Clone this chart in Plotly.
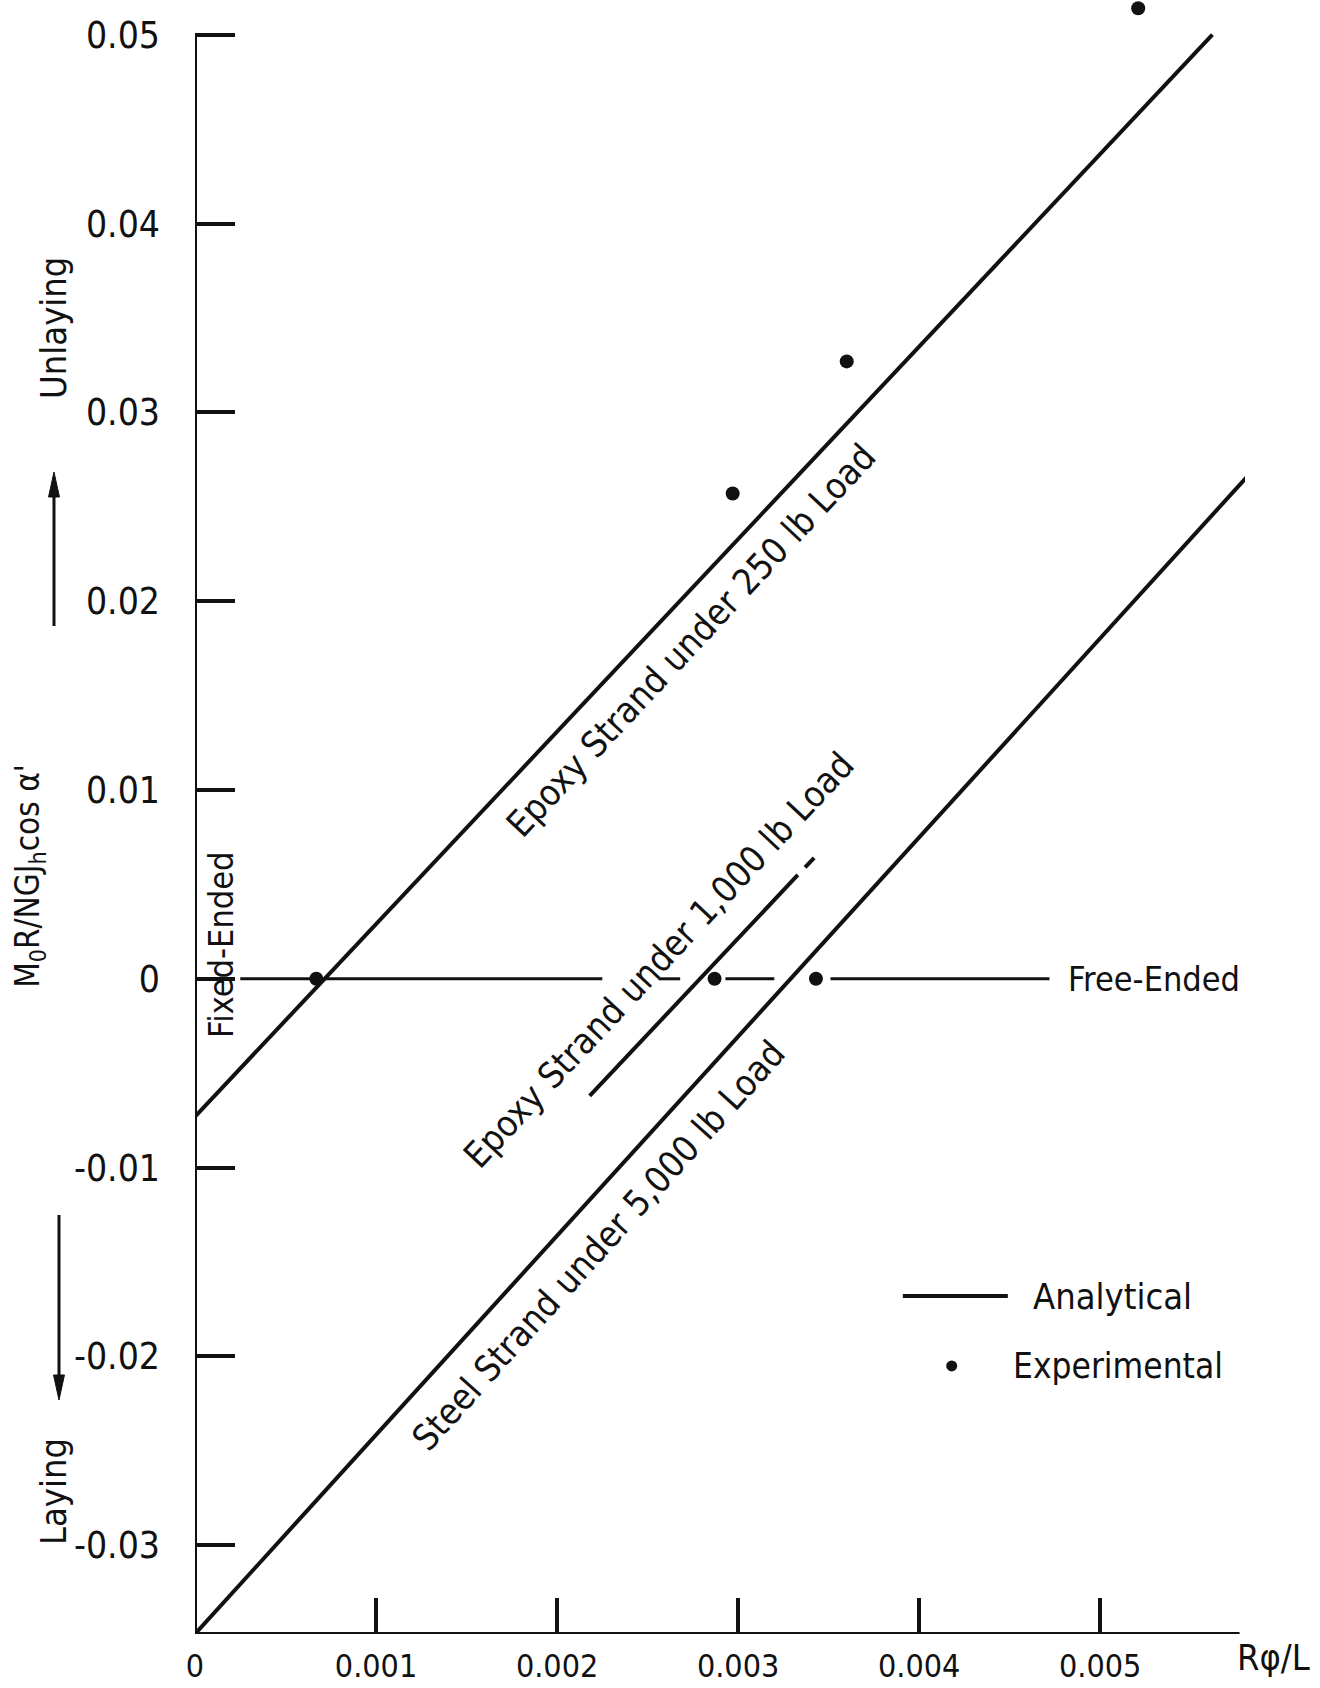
import plotly.graph_objects as go

# ---- data -------------------------------------------------------------
# analytical curves (R*phi/L, M0R/NGJh cos a')
epoxy250_x = [0.0, 0.00562]
epoxy250_y = [-0.0073, 0.0500]

epoxy1000_x = [0.00218, 0.00333]
epoxy1000_y = [-0.0062, 0.0055]
epoxy1000_tail_x = [0.00337, 0.00342]
epoxy1000_tail_y = [0.0059, 0.0064]

steel5000_x = [0.0, 0.00585]
steel5000_y = [-0.0347, 0.0270]

# free-ended reference line (broken where labels and points sit)
free_x = [0.00025, 0.00064, None, 0.00071, 0.00225, None, 0.00256, 0.00268, None,
          0.00293, 0.00320, None, 0.00351, 0.00472]
free_y = [0, 0, None, 0, 0, None, 0, 0, None, 0, 0, None, 0, 0]

# experimental measurements
exp_x = [0.00067, 0.00287, 0.00343, 0.00297, 0.00360, 0.00521]
exp_y = [0.0, 0.0, 0.0, 0.0257, 0.0327, 0.0514]

x_ticks = [0, 0.001, 0.002, 0.003, 0.004, 0.005]
x_ticktext = ["0", "0.001", "0.002", "0.003", "0.004", "0.005"]
y_ticks = [-0.03, -0.02, -0.01, 0, 0.01, 0.02, 0.03, 0.04, 0.05]
y_ticktext = ["-0.03", "-0.02", "-0.01", "0", "0.01", "0.02", "0.03", "0.04", "0.05"]

X_MIN, X_MAX = 0.0, 0.0058
Y_MIN, Y_MAX = -0.0347, 0.05184

FONT = "Liberation Sans Narrow, DejaVu Sans Condensed, Arial Narrow, sans-serif"
INK = "#111111"
TXT = 36

fig = go.Figure()

line_style = dict(color=INK, width=4)
for xs, ys in [(epoxy250_x, epoxy250_y), (epoxy1000_x, epoxy1000_y),
               (epoxy1000_tail_x, epoxy1000_tail_y), (steel5000_x, steel5000_y)]:
    fig.add_trace(go.Scatter(x=xs, y=ys, mode="lines", line=line_style,
                             showlegend=False, hoverinfo="skip"))

fig.add_trace(go.Scatter(x=free_x, y=free_y, mode="lines",
                         line=dict(color=INK, width=3), connectgaps=False,
                         showlegend=False, hoverinfo="skip"))

fig.add_trace(go.Scatter(x=exp_x, y=exp_y, mode="markers",
                         marker=dict(color=INK, size=14),
                         showlegend=False, cliponaxis=False))

# key
KEY_LINE_Y, KEY_DOT_Y = -0.0168, -0.0205
fig.add_trace(go.Scatter(x=[0.00391, 0.00449], y=[KEY_LINE_Y, KEY_LINE_Y], mode="lines",
                         line=line_style, showlegend=False, hoverinfo="skip"))
fig.add_trace(go.Scatter(x=[0.00418], y=[KEY_DOT_Y], mode="markers",
                         marker=dict(color=INK, size=11), showlegend=False))

# axis lines
fig.add_shape(type="line", x0=0, x1=0, y0=Y_MIN, y1=0.05, line=dict(color=INK, width=4))
fig.add_shape(type="line", x0=0, x1=0.00577, y0=Y_MIN, y1=Y_MIN, line=dict(color=INK, width=4))

# direction arrows beside the y axis (paper coordinates): shaft + filled head
def arrow(x, tail, tip, base, half=0.0052):
    fig.add_shape(type="line", xref="paper", yref="paper", x0=x, x1=x, y0=tail, y1=base,
                  line=dict(color=INK, width=3))
    fig.add_shape(type="path", xref="paper", yref="paper",
                  path=f"M {x - half},{base} L {x + half},{base} L {x},{tip} Z",
                  fillcolor=INK, line=dict(color=INK, width=1))


arrow(-0.13429, 0.61689, 0.71114, 0.69584)
arrow(-0.12952, 0.25643, 0.14321, 0.15851)


def note(text, x, y, angle=0, size=TXT, xanchor="center", yanchor="middle", ref="x"):
    fig.add_annotation(x=x, y=y, text=text, showarrow=False, textangle=angle,
                       xref="x" if ref == "x" else "paper",
                       yref="y" if ref == "x" else "paper",
                       font=dict(family=FONT, size=size, color=INK),
                       xanchor=xanchor, yanchor=yanchor)


note("Epoxy Strand under 250 lb Load", 0.00274, 0.0179, angle=-47)
note("Epoxy Strand under 1,000 lb Load", 0.002565, 0.0010, angle=-47)
note("Steel Strand under 5,000 lb Load", 0.00223, -0.01415, angle=-48)

note("Fixed-Ended", 0.000144, 0.0018, angle=-90, size=34)
note("Free-Ended", 0.00481, 0.0, xanchor="left", size=34)
note("Analytical", 0.00462, KEY_LINE_Y, xanchor="left")
note("Experimental", 0.00451, KEY_DOT_Y, xanchor="left", size=35)

# labels outside the plotting area are placed in paper coordinates
note("R\u03c6/L", 1.0276, -0.0141, size=36, ref="paper")
note("M<sub>0</sub>R/NGJ<sub>h</sub>cos \u03b1'", -0.1571, 0.4640, angle=-90, size=33, ref="paper")
note("Unlaying", -0.1343, 0.7993, angle=-90, ref="paper")
note("Laying", -0.1352, 0.0869, angle=-90, ref="paper")

fig.update_xaxes(range=[X_MIN, X_MAX], tickvals=x_ticks, ticktext=x_ticktext,
                 ticks="inside", ticklen=36, tickwidth=3.5, tickcolor=INK,
                 showgrid=False, zeroline=False, showline=False,
                 ticklabelstandoff=10,
                 tickfont=dict(family=FONT, size=32, color=INK))
fig.update_yaxes(range=[Y_MIN, Y_MAX], tickvals=y_ticks, ticktext=y_ticktext,
                 ticks="inside", ticklen=40, tickwidth=3.5, tickcolor=INK,
                 showgrid=False, zeroline=False, showline=False,
                 ticklabelstandoff=34,
                 tickfont=dict(family=FONT, size=37, color=INK))

fig.update_layout(width=1320, height=1688,
                  margin=dict(l=195, r=75, t=0, b=54),
                  plot_bgcolor="white", paper_bgcolor="white",
                  showlegend=False)

fig.write_html("out.html")
